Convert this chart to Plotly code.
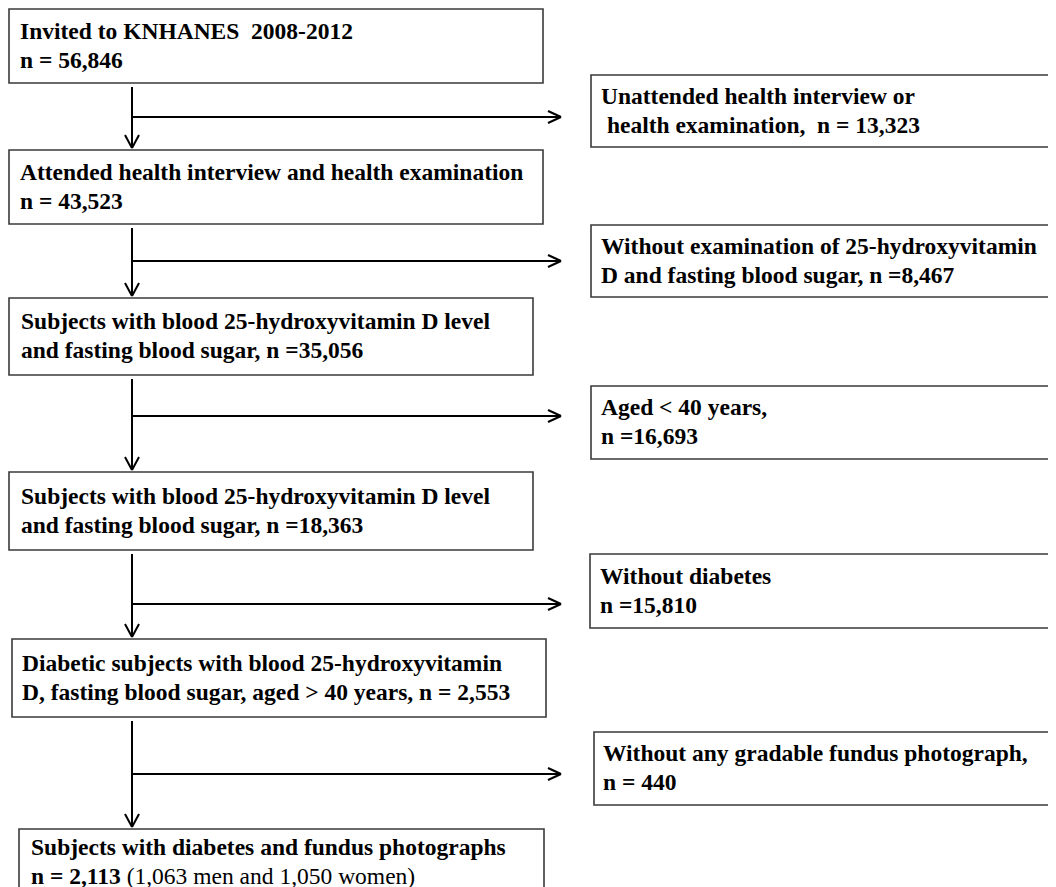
import plotly.graph_objects as go

# ---- data ----
main_n = [56846, 43523, 35056, 18363, 2553, 2113]
main_line1 = [
    "Invited to KNHANES  2008-2012",
    "Attended health interview and health examination",
    "Subjects with blood 25-hydroxyvitamin D level",
    "Subjects with blood 25-hydroxyvitamin D level",
    "Diabetic subjects with blood 25-hydroxyvitamin",
    "Subjects with diabetes and fundus photographs",
]
main_line2 = [
    "n = {n}",
    "n = {n}",
    "and fasting blood sugar, n ={n}",
    "and fasting blood sugar, n ={n}",
    "D, fasting blood sugar, aged > 40 years, n = {n}",
    "n = {n} </b>(1,063 men and 1,050 women)<b>",
]
excl_n = [13323, 8467, 16693, 15810, 440]
excl_line1 = [
    "Unattended health interview or",
    "Without examination of 25-hydroxyvitamin",
    "Aged < 40 years,",
    "Without diabetes",
    "Without any gradable fundus photograph,",
]
excl_line2 = [
    " health examination,  n = {n}",
    "D and fasting blood sugar, n ={n}",
    "n ={n}",
    "n ={n}",
    "n = {n}",
]

# ---- layout geometry (pixels in the page) ----
W, H = 1056, 887
PAGE_OFF = 8  # default body margin of the html page
main_boxes = [  # x0, x1, y0, y1
    (9, 543, 9, 83),
    (9, 543, 150, 224),
    (9, 533, 298, 375),
    (9, 533, 472, 550),
    (12, 546, 639, 717),
    (19, 544, 829, 900),
]
main_text_x = [18, 18, 19, 19, 20, 29]
excl_boxes = [
    (591, 1080, 75, 147),
    (591, 1080, 225, 297),
    (591, 1080, 386, 459),
    (590, 1080, 554, 628),
    (594, 1080, 732, 805),
]
excl_text_x = [599, 599, 599, 598, 601]
branch_y = [117, 261, 416, 604, 774]
spine_x = 132
arrow_tip_x = 561

FONT = "Liberation Serif"
FS = 23.5

fig = go.Figure()
shapes = []
annotations = []

def fmt(v):
    return f"{v:,}"

def line(x0, y0, x1, y1, w=2, c="black"):
    shapes.append(dict(type="line", x0=x0, y0=y0, x1=x1, y1=y1, xref="x", yref="y",
                       line=dict(color=c, width=w)))

def box(b):
    x0, x1, y0, y1 = b
    shapes.append(dict(type="rect", x0=x0, x1=x1, y0=y0, y1=y1, xref="x", yref="y",
                       line=dict(color="#3a3a3a", width=1.6), fillcolor="rgba(0,0,0,0)"))

def text(x, y, s):
    annotations.append(dict(x=x, y=y, xref="x", yref="y", text="<b>" + s + "</b>", showarrow=False,
                            xanchor="left", yanchor="middle", align="left",
                            font=dict(family=FONT, size=FS, color="black")))

for i, b in enumerate(main_boxes):
    box(b)
    x0, x1, y0, y1 = b
    mid = (y0 + y1) / 2 - 1 if i < 5 else y0 + 32
    text(main_text_x[i], mid - 14.5, main_line1[i])
    text(main_text_x[i], mid + 14.5, main_line2[i].format(n=fmt(main_n[i])))

for i, b in enumerate(excl_boxes):
    box(b)
    x0, x1, y0, y1 = b
    mid = (y0 + y1) / 2 - 1
    text(excl_text_x[i], mid - 14.5, excl_line1[i])
    text(excl_text_x[i], mid + 14.5, excl_line2[i].format(n=fmt(excl_n[i])))

# connectors
for i in range(5):
    top = main_boxes[i][3] + 4
    tip = main_boxes[i + 1][2] - 2
    line(spine_x, top, spine_x, tip)
    line(spine_x - 7, tip - 13, spine_x, tip)
    line(spine_x + 7, tip - 13, spine_x, tip)
    by = branch_y[i]
    line(spine_x, by, arrow_tip_x, by)
    line(arrow_tip_x - 13, by - 6, arrow_tip_x, by)
    line(arrow_tip_x - 13, by + 6, arrow_tip_x, by)

fig.update_layout(
    width=W, height=H,
    margin=dict(l=0, r=0, t=0, b=0),
    paper_bgcolor="white", plot_bgcolor="white",
    xaxis=dict(range=[PAGE_OFF, W + PAGE_OFF], visible=False, fixedrange=True),
    yaxis=dict(range=[H + PAGE_OFF, PAGE_OFF], visible=False, fixedrange=True),
    shapes=shapes, annotations=annotations, showlegend=False,
)
fig.write_html("out.html")
